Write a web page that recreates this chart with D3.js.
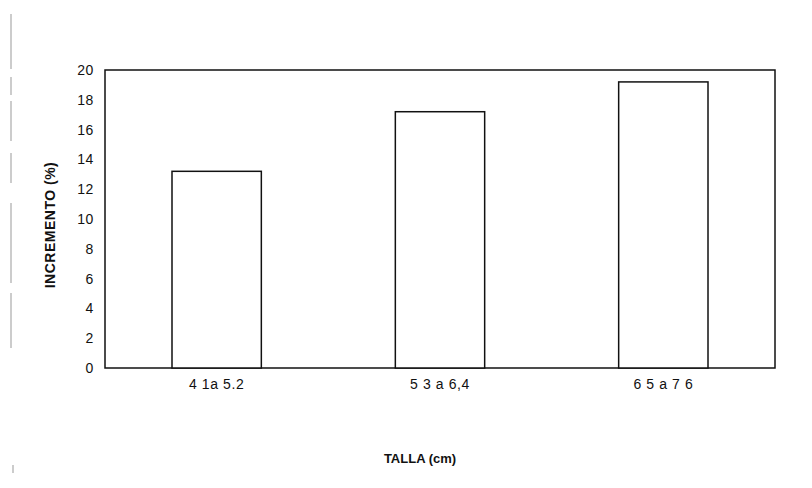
<!DOCTYPE html>
<html>
<head>
<meta charset="utf-8">
<script src="https://cdn.jsdelivr.net/npm/d3@7"></script>
<style>
  html, body { margin: 0; padding: 0; background: #fff; }
  svg { display: block; }
  text { font-family: "Liberation Sans", Arial, sans-serif; fill: #111; }
</style>
</head>
<body>
<svg id="chart" width="812" height="488"></svg>
<script>
// Size classes and growth increment (%)
const categories = ["4 1a 5.2", "5 3 a 6,4", "6 5 a 7 6"];
const increments = [13.2, 17.2, 19.2];
const yTicks = [0, 2, 4, 6, 8, 10, 12, 14, 16, 18, 20];

const svg = d3.select("#chart");
const plot = { left: 105, right: 775, top: 70, bottom: 368 };

const x = d3.scaleBand()
  .domain(categories)
  .range([plot.left, plot.right])
  .paddingInner(0.6)
  .paddingOuter(0.3);

const y = d3.scaleLinear()
  .domain([0, 20])
  .range([plot.bottom, plot.top]);

// Plot frame
svg.append("rect")
  .attr("x", plot.left)
  .attr("y", plot.top)
  .attr("width", plot.right - plot.left)
  .attr("height", plot.bottom - plot.top)
  .attr("fill", "none")
  .attr("stroke", "#111")
  .attr("stroke-width", 1.5);

// Bars
svg.append("g").selectAll("rect")
  .data(increments)
  .join("rect")
  .attr("x", (d, i) => x(categories[i]))
  .attr("y", d => y(d))
  .attr("width", x.bandwidth())
  .attr("height", d => y(0) - y(d))
  .attr("fill", "#fff")
  .attr("stroke", "#111")
  .attr("stroke-width", 1.5);

// Y axis labels
const yAxis = d3.axisLeft(y).tickValues(yTicks).tickSize(0).tickPadding(11);
svg.append("g")
  .attr("transform", `translate(${plot.left},0)`)
  .call(yAxis)
  .call(g => g.select(".domain").remove())
  .call(g => g.selectAll("text")
    .attr("font-size", 14)
    .attr("letter-spacing", 0.6)
    .attr("font-family", "Liberation Sans, Arial, sans-serif")
    .attr("fill", "#111"));

// X axis labels
const xAxis = d3.axisBottom(x).tickSize(0).tickPadding(11);
svg.append("g")
  .attr("transform", `translate(0,${plot.bottom})`)
  .call(xAxis)
  .call(g => g.select(".domain").remove())
  .call(g => g.selectAll("text")
    .attr("font-size", 14)
    .attr("letter-spacing", 0.6)
    .attr("font-family", "Liberation Sans, Arial, sans-serif")
    .attr("fill", "#111"));

// Axis titles
svg.append("text")
  .attr("transform", `translate(55,${(plot.top + plot.bottom) / 2 + 6}) rotate(-90)`)
  .attr("text-anchor", "middle")
  .attr("font-size", 14)
  .attr("letter-spacing", 0.5)
  .attr("font-weight", "bold")
  .text("INCREMENTO (%)");

svg.append("text")
  .attr("x", (plot.left + plot.right) / 2 - 20)
  .attr("y", 463)
  .attr("text-anchor", "middle")
  .attr("font-size", 13)
  .attr("font-weight", "bold")
  .text("TALLA (cm)");

// Faint page-edge rule on the left
svg.append("line")
  .attr("x1", 11).attr("x2", 11)
  .attr("y1", 14).attr("y2", 355)
  .attr("stroke", "#999")
  .attr("stroke-width", 1)
  .attr("stroke-dasharray", "55 8 18 6 40 12 30 20 80 10");
svg.append("line")
  .attr("x1", 13).attr("x2", 13)
  .attr("y1", 465).attr("y2", 473)
  .attr("stroke", "#999")
  .attr("stroke-width", 1);
</script>
</body>
</html>
